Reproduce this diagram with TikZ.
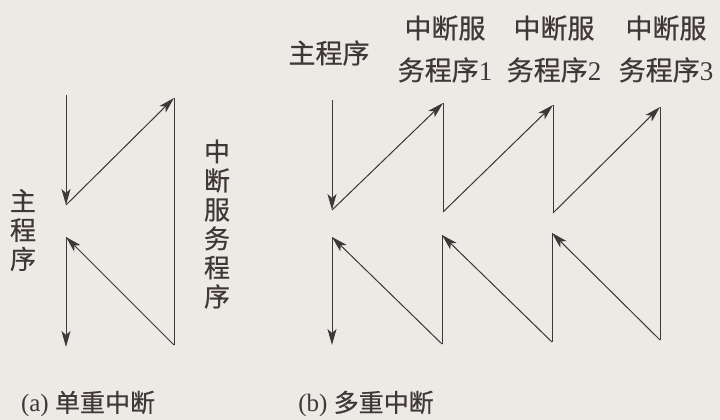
\documentclass[tikz,border=0pt]{standalone}
\usepackage{fontspec}
\setmainfont{Liberation Serif}
\newfontfamily\cjk[FakeBold=0.6]{Noto Sans CJK SC}
\usetikzlibrary{arrows.meta}
\definecolor{bgc}{RGB}{237,234,230}
\definecolor{inkc}{RGB}{62,56,56}
\tikzset{
  flow/.style={draw=inkc, fill=inkc, line width=1pt, -{Stealth[length=16pt,width=9pt,inset=4pt]}},
  seg/.style={draw=inkc, line width=1pt},
  lbl/.style={text=inkc, inner sep=0pt, align=center, font=\cjk\fontsize{27}{42}\selectfont},
  vlbl/.style={text=inkc, inner sep=0pt, align=center, font=\cjk\fontsize{26}{29}\selectfont},
  captext/.style={text=inkc, inner sep=0pt, font=\fontsize{25}{28}\selectfont}
}
\begin{document}
\begin{tikzpicture}[x=1pt,y=-1pt]
\fill[bgc] (0,0) rectangle (720,420);
\useasboundingbox (0,0) rectangle (720,420);
% (a) single interrupt
\coordinate (a0) at (66,95);
\coordinate (a1) at (66,205);
\coordinate (a2) at (174,98);
\coordinate (a3) at (174,345);
\coordinate (a4) at (66,237);
\coordinate (a5) at (66,347);
\draw[flow] (a0) -- (a1);
\draw[flow] (a1) -- (a2);
\draw[seg] (a2) -- (a3);
\draw[flow] (a3) -- (a4);
\draw[flow] (a4) -- (a5);
\node[vlbl] (amain) at (23,230) {主\\程\\序};
\node[vlbl] (aisr) at (217,224) {中\\断\\服\\务\\程\\序};
\node[captext] (acap) at (88,404) {(a) {\cjk 单重中断}};
% (b) nested interrupts
\coordinate (b0) at (332,100);
\coordinate (b1) at (332,210);
\coordinate (b2) at (443,103);
\coordinate (b3) at (443,212);
\coordinate (b4) at (553,105);
\coordinate (b5) at (553,213);
\coordinate (b6) at (660,107);
\coordinate (b7) at (660,340);
\coordinate (b8) at (552,233);
\coordinate (b9) at (552,342);
\coordinate (b10) at (442,235);
\coordinate (b11) at (442,344);
\coordinate (b12) at (332,237);
\coordinate (b13) at (332,345);
\draw[flow] (b0) -- (b1);
\draw[flow] (b1) -- (b2);
\draw[seg] (b2) -- (b3);
\draw[flow] (b3) -- (b4);
\draw[seg] (b4) -- (b5);
\draw[flow] (b5) -- (b6);
\draw[seg] (b6) -- (b7);
\draw[flow] (b7) -- (b8);
\draw[seg] (b8) -- (b9);
\draw[flow] (b9) -- (b10);
\draw[seg] (b10) -- (b11);
\draw[flow] (b11) -- (b12);
\draw[flow] (b12) -- (b13);
\node[lbl] (bmain) at (329,53) {主程序};
\node[lbl] (bisr1) at (445,49) {中断服\\务程序{\rmfamily 1}};
\node[lbl] (bisr2) at (554,49) {中断服\\务程序{\rmfamily 2}};
\node[lbl] (bisr3) at (666,49) {中断服\\务程序{\rmfamily 3}};
\node[captext] (bcap) at (366,404) {(b) {\cjk 多重中断}};
\end{tikzpicture}
\end{document}
